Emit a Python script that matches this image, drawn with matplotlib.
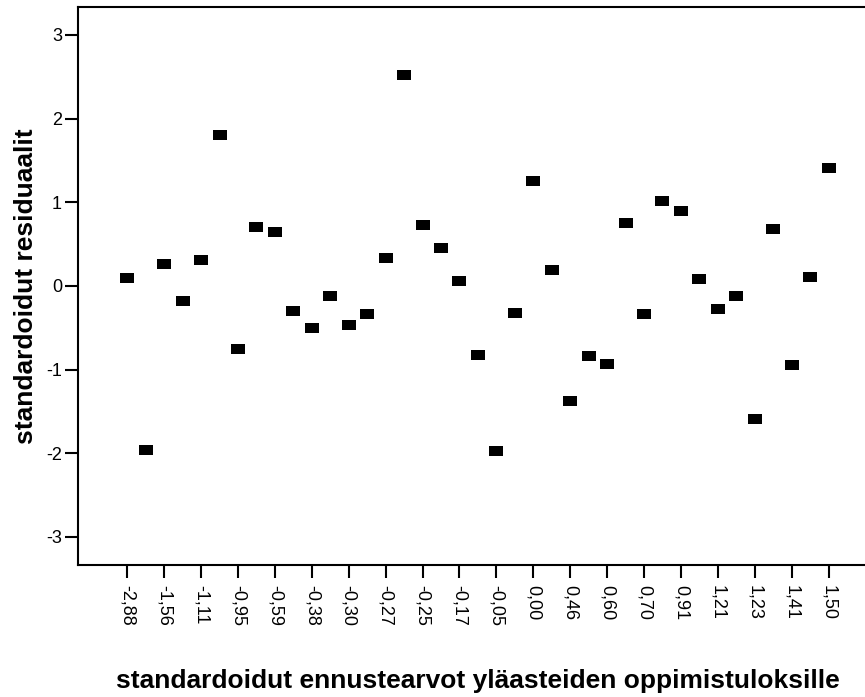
import matplotlib
matplotlib.use("Agg")
import matplotlib.pyplot as plt

plt.rcParams['font.family'] = ['Liberation Sans', 'DejaVu Sans']

# standardized predicted values, every other category is labelled
x_labels = ['-2,88', '-1,56', '-1,11', '-0,95', '-0,59', '-0,38', '-0,30',
            '-0,27', '-0,25', '-0,17', '-0,05', '0,00', '0,46', '0,60',
            '0,70', '0,91', '1,21', '1,23', '1,41', '1,50']

# standardized residuals, one per category
residuals = [0.09, -1.96, 0.26, -0.18, 0.31, 1.80, -0.75, 0.71, 0.65, -0.30,
             -0.50, -0.12, -0.47, -0.34, 0.33, 2.52, 0.73, 0.45, 0.06, -0.82,
             -1.97, -0.32, 1.25, 0.19, -1.37, -0.84, -0.93, 0.75, -0.34, 1.02,
             0.90, 0.08, -0.28, -0.12, -1.59, 0.68, -0.94, 0.11, 1.41]

y_ticks = [-3, -2, -1, 0, 1, 2, 3]

positions = list(range(len(residuals)))

fig = plt.figure(figsize=(8.65, 6.97), dpi=100)
ax = fig.add_axes([0.0902, 0.1894, 0.9246, 0.8006])

# flat rectangle marker like the SPSS scatter symbol
rect = [(-1, -0.68), (1, -0.68), (1, 0.68), (-1, 0.68), (-1, -0.68)]
ax.plot(positions, residuals, linestyle='none', marker=rect,
        markersize=10.5, markeredgewidth=0, color='black')

ax.set_xlim(-2.67, len(residuals) - 1 + 2.67)
ax.set_ylim(-3.335, 3.335)

ax.set_xticks(positions[::2])
ax.set_xticklabels(x_labels, rotation=270, fontsize=13)
ax.set_yticks(y_ticks)
ax.set_yticklabels([str(t) for t in y_ticks], fontsize=13)

ax.tick_params(axis='x', direction='out', length=9.5, width=1.5, pad=5)
ax.tick_params(axis='y', direction='out', length=9.5, width=1.5, pad=2)
for s in ax.spines.values():
    s.set_linewidth(1.5)

ax.set_xlabel('standardoidut ennustearvot yläasteiden oppimistuloksille',
              fontsize=19, fontweight='bold')
ax.xaxis.set_label_coords(0.5, -0.187)
ax.set_ylabel('standardoidut residuaalit', fontsize=19, fontweight='bold')
ax.yaxis.set_label_coords(-0.05, 0.5)

fig.savefig('out.png', dpi=100)
